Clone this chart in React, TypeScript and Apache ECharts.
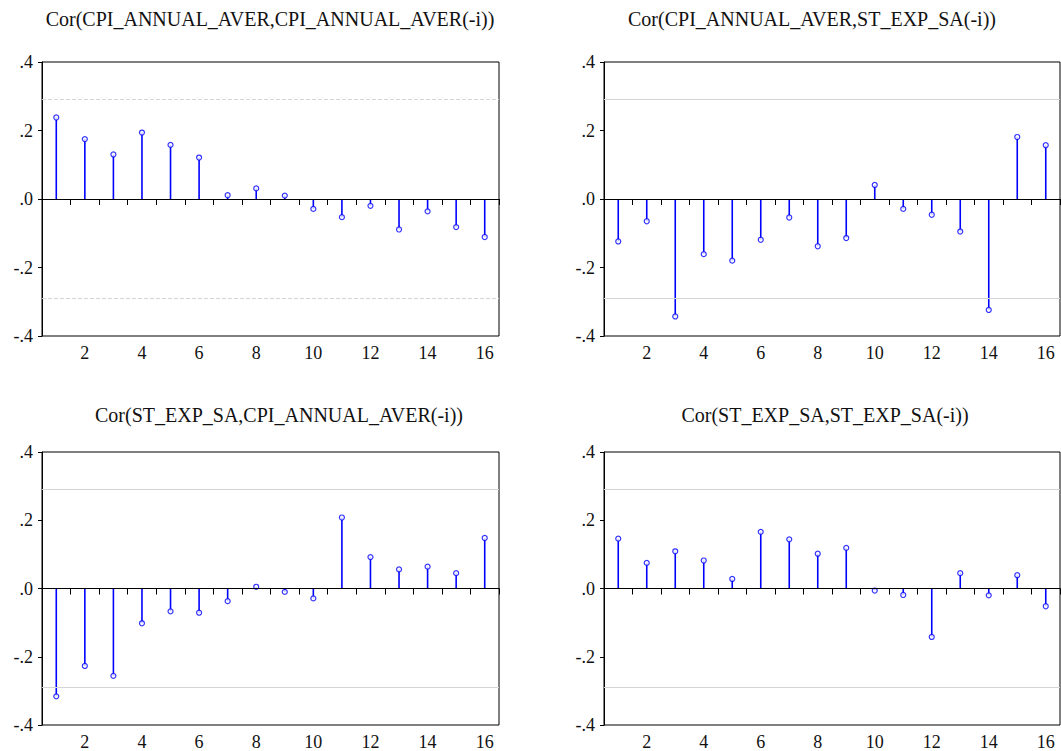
import React, { useEffect, useRef } from "react";
import * as echarts from "echarts";

const LAGS = ["1", "2", "3", "4", "5", "6", "7", "8", "9", "10", "11", "12", "13", "14", "15", "16"];

const CPI_CPI = [0.238, 0.175, 0.13, 0.194, 0.158, 0.121, 0.011, 0.031, 0.01, -0.029, -0.053, -0.02, -0.089, -0.036, -0.082, -0.111];
const CPI_ST = [-0.124, -0.065, -0.343, -0.161, -0.18, -0.119, -0.054, -0.138, -0.114, 0.041, -0.029, -0.046, -0.095, -0.324, 0.181, 0.157];
const ST_CPI = [-0.316, -0.227, -0.256, -0.102, -0.067, -0.071, -0.037, 0.005, -0.01, -0.029, 0.208, 0.092, 0.056, 0.064, 0.045, 0.148];
const ST_ST = [0.146, 0.075, 0.109, 0.082, 0.028, 0.166, 0.144, 0.102, 0.119, -0.006, -0.019, -0.142, 0.045, -0.02, 0.039, -0.052];

const TITLES = [
  "Cor(CPI_ANNUAL_AVER,CPI_ANNUAL_AVER(-i))",
  "Cor(CPI_ANNUAL_AVER,ST_EXP_SA(-i))",
  "Cor(ST_EXP_SA,CPI_ANNUAL_AVER(-i))",
  "Cor(ST_EXP_SA,ST_EXP_SA(-i))",
];

const BAND = 0.289;

const FONT = "Liberation Serif";

export default function App() {
  const ref = useRef<HTMLDivElement>(null);

  useEffect(() => {
    if (!ref.current) return;
    const chart = echarts.init(ref.current, null, { renderer: "svg" });

    const panels = [CPI_CPI, CPI_ST, ST_CPI, ST_ST];
    const grids = [
      { left: 42, top: 62, width: 457, height: 274 },
      { left: 604, top: 62, width: 456, height: 274 },
      { left: 42, top: 452, width: 457, height: 274 },
      { left: 604, top: 452, width: 456, height: 274 },
    ];
    const titlePos = [
      { x: 270, y: 19 },
      { x: 812, y: 19 },
      { x: 279, y: 415 },
      { x: 825, y: 415 },
    ];

    const yFmt = (v: number) => {
      const s = v.toFixed(1);
      return s.replace("0.", ".");
    };

    const option: any = {
      animation: false,
      backgroundColor: "#fff",
      textStyle: { fontFamily: FONT },
      graphic: TITLES.map((t, i) => ({
        type: "text",
        x: titlePos[i].x,
        y: titlePos[i].y,
        style: {
          text: t,
          fontFamily: FONT,
          fontSize: 20,
          fill: "#111",
          textAlign: "center",
          textVerticalAlign: "middle",
        },
      })),
      grid: grids.map((g) => ({
        ...g,
        show: true,
        borderColor: "#000",
        borderWidth: 1,
        backgroundColor: "transparent",
      })),
      xAxis: grids.map((_, i) => ({
        type: "category",
        gridIndex: i,
        data: LAGS,
        boundaryGap: true,
        axisLine: { show: true, lineStyle: { color: "#000", width: 1 } },
        axisTick: { show: true, interval: 0, length: 6, lineStyle: { color: "#000" } },
        axisLabel: {
          interval: (idx: number) => idx % 2 === 1,
          fontFamily: FONT,
          fontSize: 18,
          color: "#111",
          margin: 8,
        },
        splitLine: { show: false },
      })),
      yAxis: grids.map((_, i) => ({
        type: "value",
        gridIndex: i,
        min: -0.4,
        max: 0.4,
        interval: 0.2,
        axisLine: { show: true, lineStyle: { color: "#000", width: 1 } },
        axisTick: { show: true, length: 4, lineStyle: { color: "#000" } },
        axisLabel: {
          formatter: yFmt,
          fontFamily: FONT,
          fontSize: 18,
          color: "#111",
          margin: 9,
        },
        splitLine: { show: false },
      })),
      series: panels.flatMap((vals, i) => [
        {
          type: "bar",
          xAxisIndex: i,
          yAxisIndex: i,
          data: vals,
          barWidth: 1.6,
          itemStyle: { color: "#0000ff" },
          z: 3,
          markLine: {
            silent: true,
            symbol: "none",
            label: { show: false },
            animation: false,
            data: [
              { yAxis: BAND, lineStyle: { color: "#d4d4d4", width: 1, type: i === 0 ? [4, 2] : "solid" } },
              { yAxis: -BAND, lineStyle: { color: "#d4d4d4", width: 1, type: i === 0 ? [4, 2] : "solid" } },
              { yAxis: 0, lineStyle: { color: "#000", width: 1.2, type: "solid" } },
            ],
          },
        },
        {
          type: "scatter",
          xAxisIndex: i,
          yAxisIndex: i,
          data: vals,
          symbol: "circle",
          symbolSize: 5,
          itemStyle: { color: "#fff", borderColor: "#0000ff", borderWidth: 1.2 },
          z: 4,
        },
      ]),
    };

    chart.setOption(option);
    return () => chart.dispose();
  }, []);

  return (
    <div
      ref={ref}
      style={{ position: "fixed", left: 0, top: 0, width: 1061, height: 751, background: "#fff" }}
    />
  );
}
